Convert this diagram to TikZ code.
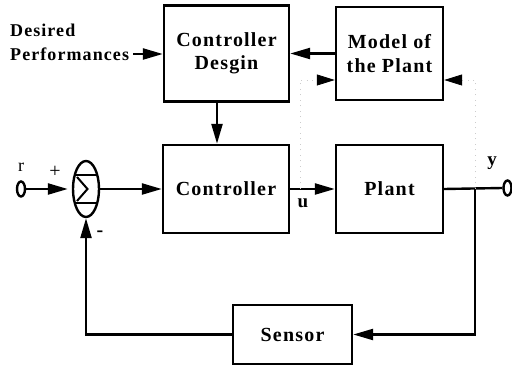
\documentclass[tikz,border=0pt]{standalone}
\usepackage{fontspec}
\setmainfont{Liberation Serif}[LetterSpace=6]
\usetikzlibrary{arrows.meta,shapes.geometric,calc}
\begin{document}
\begin{tikzpicture}[x=1pt,y=-1pt,
  blk/.style={draw, line width=2.4pt, inner sep=0pt, align=center,
    font=\fontsize{20}{23.5}\selectfont\bfseries},
  wire/.style={line width=2.4pt},
  arr/.style={wire, -{Triangle[length=20pt,width=11pt]}},
  lbl/.style={inner sep=0pt},
  dotline/.style={draw=gray!40, line width=0.8pt, dash pattern=on 1pt off 4.5pt,
    -{Triangle[length=18pt,width=11pt,color=black]}},
  term/.style={draw, ellipse, line width=2.4pt, minimum width=8pt, minimum height=15pt, inner sep=0pt}
]
\useasboundingbox (0,0) rectangle (512,366);

% blocks
\node[blk, minimum width=125pt, minimum height=96pt] (cd) at (226.5,53.5) {Controller\\Desgin};
\node[blk, minimum width=107pt, minimum height=93pt] (model) at (389.5,53.5) {Model of\\the Plant};
\node[blk, minimum width=126pt, minimum height=88pt] (ctrl) at (226,189) {Controller};
\node[blk, minimum width=107pt, minimum height=88pt] (plant) at (389.5,189) {Plant};
\node[blk, minimum width=119pt, minimum height=59pt] (sensor) at (292.5,334.5) {Sensor};

% summing junction
\node[draw, ellipse, line width=2.4pt, minimum width=26pt, minimum height=56pt, inner sep=0pt] (s) at (86,189) {};
\draw[line width=2pt] ($(s.center)+(-11.3,-14)$) -- ($(s.center)+(11.3,-14)$);
\draw[line width=2pt] ($(s.center)+(-11.3,14)$) -- ($(s.center)+(11.3,14)$);
\draw[line width=2pt, line join=miter] ($(s.center)+(-9,-12)$) -- ($(s.center)+(1.5,0)$) -- ($(s.center)+(-9,12)$);

% terminals
\node[term] (r) at (21,189) {};
\node[term] (yc) at (507.5,188) {};

% text labels
\node[lbl, anchor=west, font=\fontsize{18}{19}\selectfont\bfseries] (des) at (10,30) {Desired};
\node[lbl, anchor=west, font=\fontsize{18}{19}\selectfont\bfseries] (perf) at (10,54) {Performances};
\node[lbl, font=\fontsize{18}{20}\selectfont] (rl) at (21,167) {r};
\node[lbl, font=\fontsize{20}{20}\selectfont] (plus) at (55,172) {+};
\node[lbl, font=\fontsize{20}{20}\selectfont\bfseries] (minus) at (100,234) {-};
\node[lbl, font=\fontsize{19}{20}\selectfont\bfseries] (ul) at (303,203) {u};
\node[lbl, font=\fontsize{19}{20}\selectfont\bfseries] (yl) at (492,163) {y};

% connectors
\draw[arr] ([xshift=4pt]perf.east) -- (perf.east -| cd.west);
\draw[arr] (model.west) -- (cd.east);
\draw[arr] ([xshift=-9.5pt]cd.south) -- ([xshift=-9.5pt]cd.south |- ctrl.north);
\draw[arr, shorten >=4pt] (r.east) -- (s.west);
\draw[arr] (s.east) -- (ctrl.west);
\draw[arr] (ctrl.east) -- (plant.west);
\draw[wire] (plant.east) -- (yc.west);
\coordinate (br) at (475,189);
\coordinate (ubr) at (300,189);
\draw[arr] (br) |- (sensor.east);
\draw[arr] (sensor.west) -| (s.south);

% faint model inputs
\draw[dotline] (ubr) |- ([yshift=-26.5pt]model.west);
\draw[dotline] (br) |- ([yshift=-26.5pt]model.east);
\end{tikzpicture}
\end{document}
